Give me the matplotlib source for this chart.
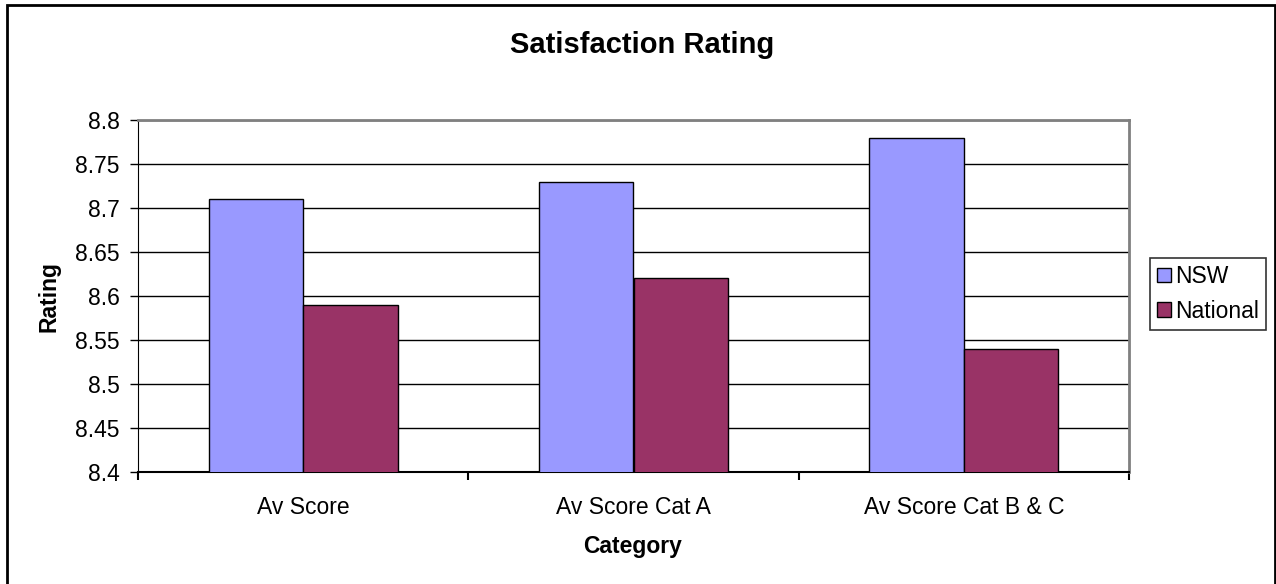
import numpy as np
import matplotlib.pyplot as plt
from matplotlib.patches import Rectangle

plt.rcParams['font.family'] = ['Liberation Sans', 'DejaVu Sans']

# data
categories = ['Av Score', 'Av Score Cat A', 'Av Score Cat B & C']
nsw = [8.71, 8.73, 8.78]
national = [8.59, 8.62, 8.54]
y_ticks = [8.4, 8.45, 8.5, 8.55, 8.6, 8.65, 8.7, 8.75, 8.8]
y_labels = ['8.4', '8.45', '8.5', '8.55', '8.6', '8.65', '8.7', '8.75', '8.8']

W, H = 1276, 584
fig = plt.figure(figsize=(W / 100, H / 100), dpi=100)
ax = fig.add_axes([138 / W, 1 - 472 / H, 991 / W, 352 / H])

x = np.arange(len(categories))
w = 1 / 3.5  # excel gap width 150%
ax.bar(x - w / 2, nsw, w, color='#9999FF', edgecolor='black', linewidth=1, label='NSW', zorder=3)
ax.bar(x + w / 2, national, w, color='#993366', edgecolor='black', linewidth=1, label='National', zorder=3)

fs = 16.5
ax.set_xlim(-0.5, len(categories) - 0.5)
ax.set_ylim(8.4, 8.8)
ax.set_yticks(y_ticks)
ax.set_yticklabels(y_labels, fontsize=fs)
ax.set_xticks(x)
ax.set_xticklabels(categories, fontsize=fs)
ax.tick_params(axis='x', length=0, pad=17)
ax.set_xticks(np.arange(len(categories) + 1) - 0.5, minor=True)
ax.tick_params(axis='x', which='minor', length=6, direction='out', width=1.5, color='black')
ax.tick_params(axis='y', length=6, direction='out', width=1, pad=7)

ax.yaxis.grid(True, color='black', linewidth=1)
ax.set_axisbelow(True)

ax.spines['left'].set_color('black')
ax.spines['bottom'].set_color('black')
ax.spines['bottom'].set_linewidth(1.5)
ax.spines['top'].set_color('#808080')
ax.spines['right'].set_color('#808080')
ax.spines['top'].set_linewidth(2)
ax.spines['right'].set_linewidth(2)

fig.text(49 / W, 1 - 296 / H, 'Rating', fontsize=fs, fontweight='bold',
         rotation=90, ha='center', va='center')
fig.text(633 / W, 1 - 547 / H, 'Category', fontsize=fs, fontweight='bold',
         ha='center', va='center')
fig.text(642 / W, 1 - 45 / H, 'Satisfaction Rating', fontsize=21, fontweight='bold',
         ha='center', va='center')

leg = fig.legend(loc='center', bbox_to_anchor=(1208 / W, 1 - 294 / H), fontsize=fs,
                 frameon=True, fancybox=False, handlelength=0.6, handleheight=0.6,
                 handletextpad=0.2, borderpad=0.3, labelspacing=0.5, borderaxespad=0)
leg.get_frame().set_edgecolor('black')
leg.get_frame().set_linewidth(1.2)
for h in leg.legend_handles:
    h.set_edgecolor('black')

# chart border
fig.patches.append(Rectangle((7 / W, -0.01), 1268 / W, 1 - 5 / H + 0.01,
                             transform=fig.transFigure, fill=False,
                             edgecolor='black', linewidth=2))

fig.savefig('out.png', dpi=100)
